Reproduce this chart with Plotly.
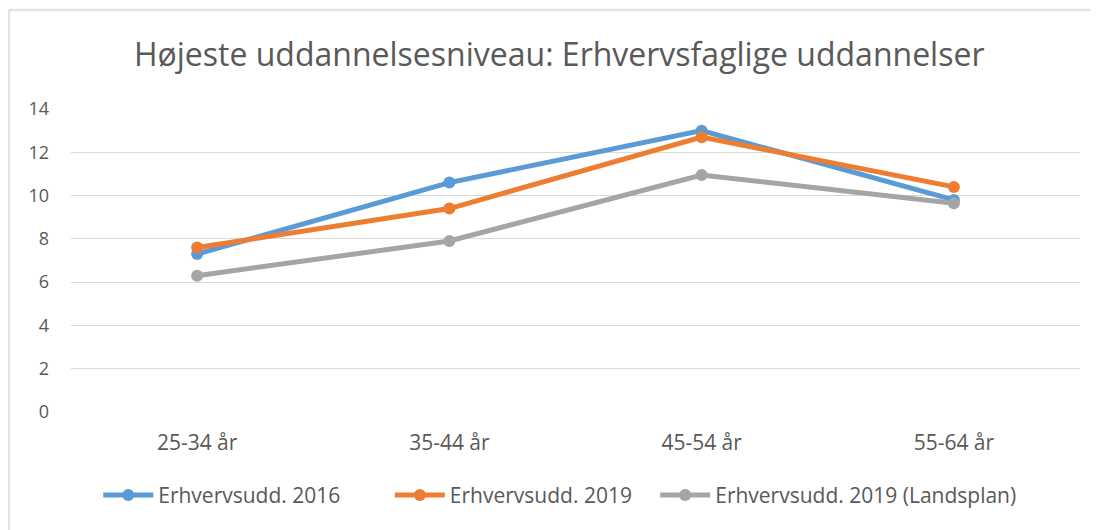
import plotly.graph_objects as go

categories = ["25-34 år", "35-44 år", "45-54 år", "55-64 år"]
erhverv_2016 = [7.3, 10.6, 13.0, 9.8]
erhverv_2019 = [7.6, 9.4, 12.7, 10.4]
erhverv_2019_land = [6.3, 7.9, 10.95, 9.65]
series_names = ["Erhvervsudd. 2016", "Erhvervsudd. 2019", "Erhvervsudd. 2019 (Landsplan)"]
colors = ["#5B9BD5", "#ED7D31", "#A5A5A5"]
y_ticks = [0, 2, 4, 6, 8, 10, 12, 14]

FONT = "Open Sans"
TXT = "#595959"

# plot area in figure pixels (page body adds an 8px offset)
L, R, T, B = 63, 26, 101, 126
PW = 1098 - L - R
PH = 530 - T - B

legend_ids = ["legend", "legend2", "legend3"]
legend_x = [0.027, 0.316, 0.579]

fig = go.Figure()
for name, vals, col, lid in zip(series_names, [erhverv_2016, erhverv_2019, erhverv_2019_land],
                                colors, legend_ids):
    fig.add_trace(go.Scatter(
        x=categories, y=vals, name=name, mode="lines+markers",
        line=dict(color=col, width=5),
        marker=dict(color=col, size=12),
        legend=lid,
    ))

legend_common = dict(orientation="h", xanchor="left", y=-0.275, yanchor="middle",
                     font=dict(family=FONT, size=21, color=TXT), itemwidth=50,
                     bgcolor="rgba(0,0,0,0)")

fig.update_layout(
    width=1098, height=530,
    margin=dict(l=L, r=R, t=T, b=B),
    paper_bgcolor="white", plot_bgcolor="white",
    title=dict(text="Højeste uddannelsesniveau: Erhvervsfaglige uddannelser",
               x=0.502, xanchor="center", y=0.911, yanchor="middle",
               font=dict(family=FONT, size=32, color=TXT)),
    xaxis=dict(showgrid=False, showline=False, zeroline=False,
               tickfont=dict(family=FONT, size=21, color=TXT),
               ticklabelstandoff=16, range=[-0.5, 3.5]),
    yaxis=dict(range=[0, 14], tickvals=y_ticks, showgrid=True, gridcolor="#D9D9D9",
               gridwidth=1.3, zeroline=False, showline=False,
               tickfont=dict(family=FONT, size=18, color=TXT),
               ticklabelstandoff=21),
    legend=dict(x=legend_x[0], **legend_common),
    legend2=dict(x=legend_x[1], **legend_common),
    legend3=dict(x=legend_x[2], **legend_common),
    showlegend=True,
)

# outer chart frame (top and left edges visible)
ytop = (PH + T - 2) / PH
fig.add_shape(type="line", xref="paper", yref="paper",
              x0=(1 - L) / PW, x1=(1098 - L) / PW,
              y0=ytop, y1=ytop,
              line=dict(color="#E3E3E3", width=2.5))
fig.add_shape(type="line", xref="paper", yref="paper",
              x0=(1 - L) / PW, x1=(1 - L) / PW,
              y0=ytop, y1=-(B + 10) / PH,
              line=dict(color="#E3E3E3", width=2.5))

fig.write_html("out.html")
